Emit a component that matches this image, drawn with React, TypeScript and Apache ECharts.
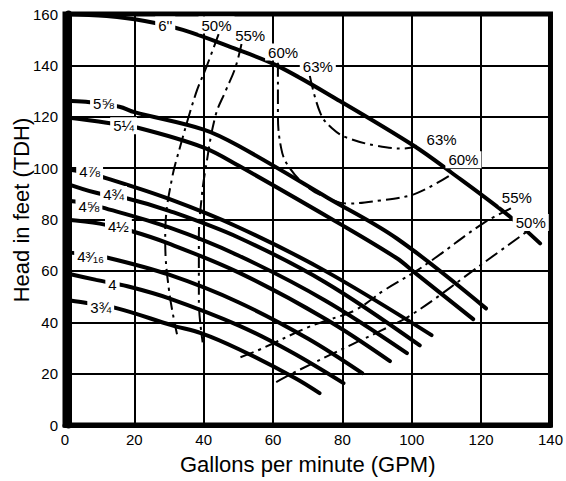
import React, { useEffect, useRef } from "react";
import * as echarts from "echarts";

// Impeller diameter curves: [GPM, head ft]
const curve6 = [[0, 160], [12, 159.2], [23, 157.3], [34, 153.8], [48, 147], [61, 140], [79.4, 126], [100.6, 108.7], [111.4, 98.3], [128.6, 80.8], [137, 70.7]];
const curve5_58 = [[0, 126.2], [6, 125.8], [15.7, 123.9], [20, 121.8], [40, 115], [50, 108.7], [75.7, 88.5], [95.7, 72.6], [121.4, 45.4]];
const curve5_14 = [[0, 119.8], [12, 117.7], [21, 115.7], [40, 108], [50, 101], [79.4, 78.2], [95.7, 64.9], [100.6, 59.6], [117.7, 41.2]];
const curve4_78 = [[0, 99.6], [5, 98.6], [12.3, 95.9], [30, 88], [50, 77], [75, 60], [105.7, 35]];
const curve4_34 = [[0, 94.2], [9, 90.4], [18, 88.2], [30, 83.4], [50, 73], [75, 55.6], [102.3, 31]];
const curve4_58 = [[0, 87.5], [5, 86.5], [10.6, 84.7], [30, 76.9], [50, 66], [75, 48.5], [98.6, 28]];
const curve4_12 = [[0, 80], [10, 78.4], [18.6, 75.7], [30, 70.6], [50, 59.4], [75, 41.4], [93.7, 24.9]];
const curve4_316 = [[0, 67.3], [5, 66.6], [12, 65.2], [30, 58.5], [50, 47.8], [70, 33.7], [85.7, 20.2]];
const curve4 = [[0, 59.2], [9, 56.5], [18, 54], [30, 49.3], [50, 38.8], [65, 28.6], [80.3, 16.3]];
const curve3_34 = [[0, 48.8], [5, 47.8], [15.1, 45.4], [30.9, 38.8], [39.4, 35.7], [50, 29.6], [66.3, 18.3], [73.4, 12.4]];

// Efficiency curves
const eff50Left = [[44.3, 152.2], [40.9, 139.8], [37.7, 128.9], [32.3, 104], [30.9, 96.3], [29.1, 80.8], [28.9, 71.8], [30, 52.4], [32.3, 35.3]];
const eff50Right = [[60.9, 16.7], [65.7, 20.2], [83.4, 31.8], [91.4, 36.9], [100.6, 43.5], [120.9, 63.3], [132.9, 75]];
const eff55Left = [[50.9, 148.3], [49.1, 139], [46.3, 130], [43.4, 120.4], [40.6, 100.2], [39.4, 88.5], [38.6, 73], [38.6, 48.5], [39.7, 32.2]];
const eff55Right = [[50.6, 26.4], [55.7, 29.1], [70, 38], [75.7, 40.8], [83.7, 44.7], [92, 52.4], [100.6, 59.4], [106.6, 64.9], [120.9, 78.8], [128.6, 84.3]];
const eff60 = [[61.4, 141], [61.4, 121.2], [62.3, 108], [64.3, 101], [70, 92.5], [75, 88.8], [81.4, 86.2], [90.9, 87.4], [99.4, 89.3], [104.3, 92], [110.9, 97.1]];
const eff63 = [[70.6, 135.9], [73.7, 121.2], [77, 115.5], [81.4, 111.8], [90, 108.7], [97.7, 107.6], [101.4, 108.7]];

const impellerCurves = [curve6, curve5_58, curve5_14, curve4_78, curve4_34, curve4_58, curve4_12, curve4_316, curve4, curve3_34];
const efficiencyCurves = [eff50Left, eff50Right, eff55Left, eff55Right, eff60, eff63];

// Curve labels: [text, GPM, head]
const curveLabels: [string, number, number][] = [
  ["6''", 28.9, 155.7],
  ["50%", 43.7, 155.7],
  ["55%", 53.4, 151.8],
  ["60%", 62.9, 145.2],
  ["63%", 72.9, 139.4],
  ["63%", 108.6, 111.1],
  ["60%", 114.9, 103.3],
  ["55%", 130.3, 88.5],
  ["50%", 134.3, 78.8],
  ["5⅝", 11.1, 125],
  ["5¼", 16.9, 116.5],
  ["4⅞", 7.1, 98.6],
  ["4¾", 14, 89.7],
  ["4⅝", 6.9, 85],
  ["4½", 15.4, 77.3],
  ["4³⁄₁₆", 7.4, 65.6],
  ["4", 13.7, 54.8],
  ["3¾", 10.3, 45.8],
];

const xTitle = "Gallons per minute (GPM)";
const yTitle = "Head in feet (TDH)";
const FONT = "'Liberation Sans', Arial, Helvetica, sans-serif";

export default function App() {
  const ref = useRef<HTMLDivElement>(null);
  useEffect(() => {
    if (!ref.current) return;
    const chart = echarts.init(ref.current, undefined, { renderer: "svg" });
    const series: any[] = [];
    impellerCurves.forEach((c) => {
      series.push({
        type: "line",
        data: c,
        symbol: "none",
        smooth: 0.35,
        silent: true,
        z: 4,
        lineStyle: { color: "#000", width: 4, cap: "round" },
      });
    });
    efficiencyCurves.forEach((c) => {
      series.push({
        type: "line",
        data: c,
        symbol: "none",
        smooth: 0.4,
        silent: true,
        z: 3,
        lineStyle: { color: "#000", width: 2, type: [14, 5, 3, 5] },
      });
    });
    const yTitleGraphic = {
      type: "text",
      x: 21,
      y: 210,
      rotation: Math.PI / 2,
      z: 100,
      style: { text: yTitle, fill: "#000", fontSize: 22, fontFamily: FONT, align: "center", verticalAlign: "middle" },
    };
    chart.setOption({
      animation: false,
      backgroundColor: "#fff",
      grid: { left: 65, right: 11, top: 14, bottom: 56, show: true, borderColor: "#000", borderWidth: 5, backgroundColor: "#fff" },
      xAxis: {
        type: "value",
        min: 0,
        max: 140,
        interval: 20,
        name: xTitle,
        nameLocation: "middle",
        nameGap: 28,
        nameTextStyle: { color: "#000", fontSize: 22, fontFamily: FONT },
        axisLine: { show: true, lineStyle: { color: "#000", width: 5 } },
        axisTick: { show: false },
        axisLabel: { color: "#000", fontSize: 15, margin: 7, fontFamily: FONT },
        splitLine: { show: true, lineStyle: { color: "#000", width: 2 } },
      },
      yAxis: {
        type: "value",
        min: 0,
        max: 160,
        interval: 20,
        offset: -3,
        axisLine: { show: true, lineStyle: { color: "#000", width: 7 } },
        axisTick: { show: false },
        axisLabel: { color: "#000", fontSize: 15, margin: 10, fontFamily: FONT },
        splitLine: { show: true, lineStyle: { color: "#000", width: 2 } },
      },
      graphic: [yTitleGraphic],
      series,
    });
    const labelGraphics = curveLabels.map(([t, x, y]) => {
      const p = chart.convertToPixel({ gridIndex: 0 }, [x, y]) as number[];
      return {
        type: "text",
        x: p[0],
        y: p[1],
        z: 100,
        silent: true,
        style: {
          text: t,
          fill: "#000",
          fontSize: 15,
          fontFamily: FONT,
          align: "center",
          verticalAlign: "middle",
          backgroundColor: "#fff",
          padding: [1, 3],
        },
      };
    });
    chart.setOption({ graphic: [yTitleGraphic, ...labelGraphics] });
    return () => chart.dispose();
  }, []);
  return <div ref={ref} style={{ width: 566, height: 481, position: "absolute", left: 0, top: 0 }} />;
}
